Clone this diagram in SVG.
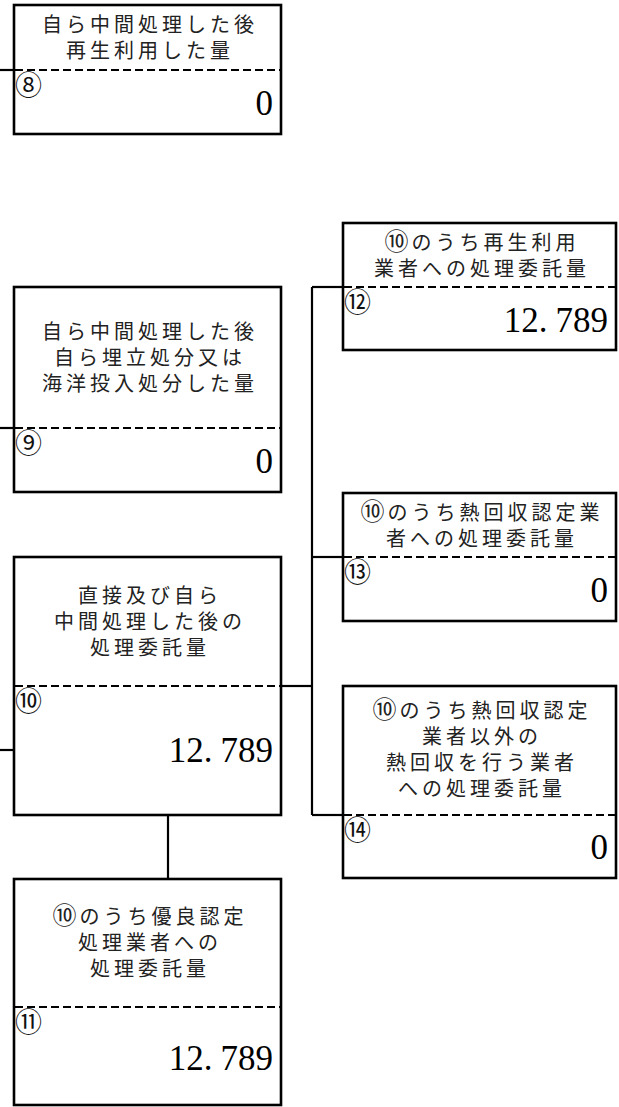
<svg xmlns="http://www.w3.org/2000/svg" width="619" height="1107" viewBox="0 0 619 1107">
<style>
.box{fill:#fff;stroke:#000;stroke-width:2.6}
.dash{stroke:#000;stroke-width:2;stroke-dasharray:8 4;fill:none}
.conn{stroke:#000;stroke-width:2.2;fill:none}
.lbl{font-family:"Noto Sans CJK JP","Noto Sans CJK SC",sans-serif;font-size:20px;letter-spacing:4px;fill:#222;text-anchor:middle}
.c{font-size:24px;letter-spacing:3px}
.num{font-family:"Noto Sans CJK JP",sans-serif;font-size:27px;fill:#111}
.val{font-family:"Liberation Serif",serif;font-size:35px;fill:#000;text-anchor:end}
</style>
<g id="connectors">
<line class="conn" x1="0" y1="70" x2="14" y2="70"/>
<line class="conn" x1="0" y1="428" x2="14" y2="428"/>
<line class="conn" x1="0" y1="750" x2="14" y2="750"/>
<line class="conn" x1="281" y1="686" x2="312" y2="686"/>
<line class="conn" x1="312" y1="287" x2="312" y2="815"/>
<line class="conn" x1="312" y1="287" x2="343" y2="287"/>
<line class="conn" x1="312" y1="557" x2="343" y2="557"/>
<line class="conn" x1="312" y1="815" x2="343" y2="815"/>
<line class="conn" x1="168" y1="815" x2="168" y2="879"/>
</g>
<g id="node8">
<rect class="box" x="14" y="5" width="267" height="129"/>
<line class="dash" x1="15" y1="70" x2="280" y2="70"/>
<text class="lbl" x="150" y="32">自ら中間処理した後</text>
<text class="lbl" x="150" y="58">再生利用した量</text>
<text class="num" x="15" y="95">⑧</text>
<text class="val" x="273" y="115">0</text>
</g>
<g id="node9">
<rect class="box" x="14" y="287" width="267" height="205"/>
<line class="dash" x1="15" y1="428" x2="280" y2="428"/>
<text class="lbl" x="150" y="339">自ら中間処理した後</text>
<text class="lbl" x="150" y="365">自ら埋立処分又は</text>
<text class="lbl" x="150" y="391">海洋投入処分した量</text>
<text class="num" x="15" y="453">⑨</text>
<text class="val" x="273" y="473">0</text>
</g>
<g id="node10">
<rect class="box" x="14" y="557" width="267" height="258"/>
<line class="dash" x1="15" y1="686" x2="280" y2="686"/>
<text class="lbl" x="150" y="603">直接及び自ら</text>
<text class="lbl" x="150" y="629">中間処理した後の</text>
<text class="lbl" x="150" y="655">処理委託量</text>
<text class="num" x="15" y="711">⑩</text>
<text class="val" x="273" y="762">12.<tspan dx="8">789</tspan></text>
</g>
<g id="node11">
<rect class="box" x="14" y="879" width="267" height="226"/>
<line class="dash" x1="15" y1="1007" x2="280" y2="1007"/>
<text class="lbl" x="150" y="924"><tspan class="c">⑩</tspan>のうち優良認定</text>
<text class="lbl" x="150" y="950">処理業者への</text>
<text class="lbl" x="150" y="976">処理委託量</text>
<text class="num" x="15" y="1032">⑪</text>
<text class="val" x="273" y="1070">12.<tspan dx="8">789</tspan></text>
</g>
<g id="node12">
<rect class="box" x="343" y="223" width="273" height="127"/>
<line class="dash" x1="344" y1="287" x2="615" y2="287"/>
<text class="lbl" x="482" y="250"><tspan class="c">⑩</tspan>のうち再生利用</text>
<text class="lbl" x="482" y="276">業者への処理委託量</text>
<text class="num" x="344" y="312">⑫</text>
<text class="val" x="608" y="332">12.<tspan dx="8">789</tspan></text>
</g>
<g id="node13">
<rect class="box" x="343" y="493" width="273" height="128"/>
<line class="dash" x1="344" y1="557" x2="615" y2="557"/>
<text class="lbl" x="482" y="520"><tspan class="c">⑩</tspan>のうち熱回収認定業</text>
<text class="lbl" x="482" y="546">者への処理委託量</text>
<text class="num" x="344" y="582">⑬</text>
<text class="val" x="608" y="602">0</text>
</g>
<g id="node14">
<rect class="box" x="343" y="686" width="273" height="192"/>
<line class="dash" x1="344" y1="815" x2="615" y2="815"/>
<text class="lbl" x="482" y="718"><tspan class="c">⑩</tspan>のうち熱回収認定</text>
<text class="lbl" x="482" y="744">業者以外の</text>
<text class="lbl" x="482" y="770">熱回収を行う業者</text>
<text class="lbl" x="482" y="796">への処理委託量</text>
<text class="num" x="344" y="840">⑭</text>
<text class="val" x="608" y="859">0</text>
</g>
</svg>
